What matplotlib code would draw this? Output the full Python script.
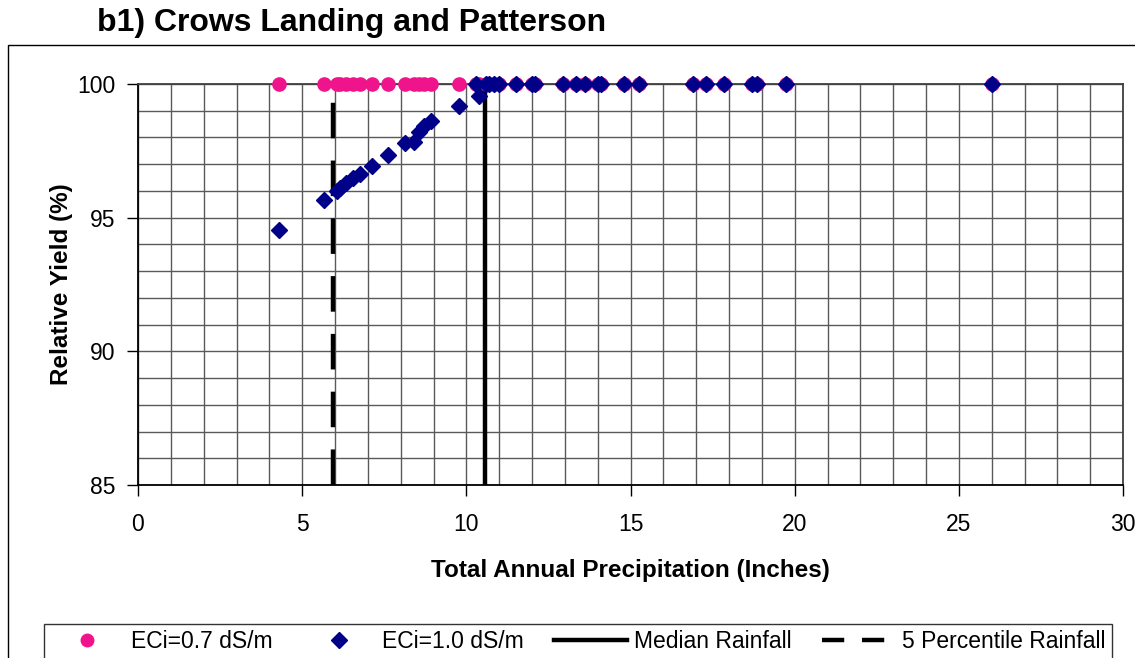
import matplotlib
matplotlib.use('Agg')
import matplotlib.pyplot as plt
from matplotlib.lines import Line2D
from matplotlib.patches import Rectangle
import numpy as np

plt.rcParams['font.family'] = ['Liberation Sans', 'DejaVu Sans']

# precipitation (inches) for each year, same for both series
precip = [4.3, 5.68, 6.05, 6.15, 6.35, 6.55, 6.75, 7.12, 7.6, 8.13, 8.4,
          8.57, 8.72, 8.93, 9.77, 10.38, 10.3, 10.6, 10.7, 10.85, 11.0,
          11.5, 12.0, 12.1, 12.95, 13.35, 13.6, 14.0, 14.1, 14.8, 15.25,
          16.9, 17.3, 17.85, 18.7, 18.85, 19.75, 26.0]
yield_07 = [100.0] * len(precip)
yield_10 = [94.55, 95.65, 96.0, 96.1, 96.3, 96.47, 96.65, 96.95, 97.35, 97.8,
            97.82, 98.2, 98.43, 98.6, 99.16, 99.55, 100, 100, 100, 100, 100,
            100, 100, 100, 100, 100, 100, 100, 100, 100, 100,
            100, 100, 100, 100, 100, 100, 100]

median_rain = 10.57
pct5_rain = 5.95

fig = plt.figure(figsize=(11.35, 6.58), dpi=100)
ax = fig.add_axes([138/1135, 1 - 485/658, (1123 - 138)/1135, (485 - 84)/658])

# chart area border (Excel style, cut at right/bottom)
fig.patches.append(Rectangle((8/1135, -0.01), 1.1, 1 - 45/658 + 0.01,
                             transform=fig.transFigure, fill=False,
                             ec='black', lw=1.0))

ax.set_xlim(0, 30)
ax.set_ylim(85, 100)
ax.set_xticks(np.arange(0, 31, 5))
ax.set_yticks(np.arange(85, 101, 5))
ax.set_xticks(np.arange(0, 31, 1), minor=True)
ax.set_yticks(np.arange(85, 101, 1), minor=True)
ax.grid(True, which='both', color='#5a5a5a', lw=1.0)
ax.set_axisbelow(True)
ax.tick_params(which='major', direction='out', length=8, width=1, labelsize=16.5)
ax.tick_params(axis='x', pad=12)
ax.tick_params(axis='y', pad=8)
ax.tick_params(which='minor', length=0)
for s in ['top', 'right']:
    ax.spines[s].set_color('#404040')
for s in ['left', 'bottom']:
    ax.spines[s].set_color('black')
for s in ax.spines.values():
    s.set_linewidth(1.3)

ax.plot([median_rain, median_rain], [85, 100], color='black', lw=3.2,
        solid_capstyle='butt', zorder=3)
ax.plot([pct5_rain, pct5_rain], [85, 99.8], color='black', lw=3.2,
        ls=(0, (8, 5)), zorder=3)

ax.plot(precip, yield_07, 'o', color='#F0148C', ms=9.5, mec='#F0148C',
        clip_on=False, zorder=4)
ax.plot(precip, yield_10, 'D', color='#000088', ms=8.5, mec='#000088',
        clip_on=False, zorder=5)

ax.set_xlabel('Total Annual Precipitation (Inches)', fontsize=17.5,
              fontweight='bold', labelpad=17)
ax.set_ylabel('Relative Yield (%)', fontsize=17.5, fontweight='bold',
              labelpad=3)

fig.text(97/1135, 1 - 23/658, 'b1) Crows Landing and Patterson', fontsize=23,
         fontweight='bold', va='center', ha='left')

handles = [
    Line2D([], [], ls='none', marker='o', color='#F0148C', ms=9),
    Line2D([], [], ls='none', marker='D', color='#000088', ms=8),
    Line2D([], [], color='black', lw=3.2),
    Line2D([], [], color='black', lw=3.2, ls=(0, (5, 4))),
]
labels = ['ECi=0.7 dS/m', 'ECi=1.0 dS/m', 'Median Rainfall',
          '5 Percentile Rainfall']
leg = fig.legend(handles, labels, loc='center',
                 bbox_to_anchor=(578/1135, 1 - 642/658), ncol=4,
                 fontsize=16.5, frameon=True, fancybox=False, edgecolor='black',
                 handlelength=3.2, handletextpad=0.3, columnspacing=1.3,
                 borderpad=0.3)
leg.get_frame().set_linewidth(1.0)

fig.savefig('out.png', dpi=100)
